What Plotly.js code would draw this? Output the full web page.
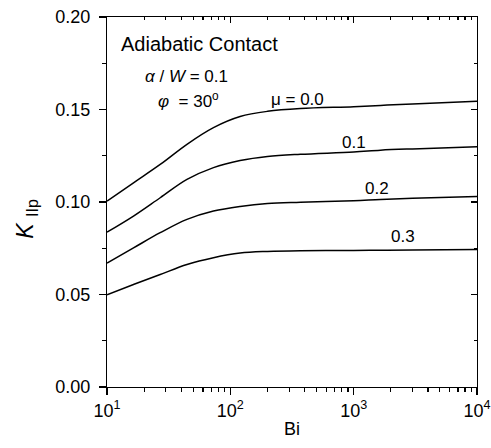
<!DOCTYPE html>
<html>
<head>
<meta charset="utf-8">
<script src="https://cdn.plot.ly/plotly-3.0.1.min.js"></script>
<style>html,body{margin:0;padding:0;background:#fff;}#chart{width:491px;height:448px;}</style>
</head>
<body>
<div id="chart"></div>
<script>
// Data
const bi = [10, 16.4, 27, 44.5, 73, 120, 200, 370, 1000, 1650, 3000, 10000];
const mu00 = [0.1005, 0.1104, 0.1203, 0.1312, 0.1402, 0.1462, 0.1490, 0.1505, 0.1515, 0.1522, 0.1530, 0.1545];
const mu01 = [0.0837, 0.0924, 0.1023, 0.1122, 0.1186, 0.1224, 0.1246, 0.1258, 0.1270, 0.1280, 0.1287, 0.1298];
const mu02 = [0.0670, 0.0752, 0.0834, 0.0906, 0.0951, 0.0976, 0.0992, 0.0999, 0.1007, 0.1014, 0.1020, 0.1030];
const mu03 = [0.0499, 0.0554, 0.0608, 0.0662, 0.0699, 0.0724, 0.0733, 0.0737, 0.0738, 0.0739, 0.0740, 0.0743];
const seriesNames = ['μ = 0.0', '0.1', '0.2', '0.3'];
const labelBi = [352, 1004, 1542, 2505];
const labelK = [0.1555, 0.1322, 0.1074, 0.0814];
const xTickVals = [10, 100, 1000, 10000];
const xTickText = ['10<sup>1</sup>', '10<sup>2</sup>', '10<sup>3</sup>', '10<sup>4</sup>'];
const xMinorVals = [20, 30, 40, 50, 60, 70, 80, 90, 200, 300, 400, 500, 600, 700, 800, 900,
                    2000, 3000, 4000, 5000, 6000, 7000, 8000, 9000];
const yTickVals = [0, 0.05, 0.10, 0.15, 0.20];
const yMinorVals = [0.025, 0.075, 0.125, 0.175];

const font = 'Arial, "Liberation Sans", sans-serif';
const allSeries = [mu00, mu01, mu02, mu03];
const traces = allSeries.map((ys, i) => ({
  x: bi, y: ys, type: 'scatter', mode: 'lines', name: seriesNames[i],
  line: {color: '#000', width: 1.5, shape: 'spline', smoothing: 1},
  showlegend: false, hoverinfo: 'skip'
}));
traces.push({x: [10, 10000], y: [0, 0.2], xaxis: 'x2', yaxis: 'y2', mode: 'markers',
  marker: {opacity: 0}, showlegend: false, hoverinfo: 'skip'});

const annotations = [
  {xref: 'paper', yref: 'paper', x: 0.033, y: 0.928, xanchor: 'left', yanchor: 'middle',
   text: 'Adiabatic Contact', showarrow: false, font: {family: font, size: 20}},
  {xref: 'paper', yref: 'paper', x: 0.097, y: 0.838, xanchor: 'left', yanchor: 'middle',
   text: '<i>α</i> / <i>W</i> = 0.1', showarrow: false, font: {family: font, size: 17}},
  {xref: 'paper', yref: 'paper', x: 0.133, y: 0.775, xanchor: 'left', yanchor: 'middle',
   text: '<i>φ</i>  = 30<sup>o</sup>', showarrow: false, font: {family: font, size: 17}},
  {xref: 'paper', yref: 'paper', x: 0, y: 0.455, xshift: -80, xanchor: 'center', yanchor: 'middle',
   textangle: -90, text: '<i>K</i> <sub>IIp</sub>', showarrow: false, font: {family: font, size: 23}}
];
seriesNames.forEach((t, i) => annotations.push({
  xref: 'x', yref: 'y', x: Math.log10(labelBi[i]), y: labelK[i], xanchor: 'center', yanchor: 'middle',
  text: t, showarrow: false, font: {family: font, size: 17}
}));

const common = {showgrid: false, zeroline: false, showline: true, linecolor: '#000', linewidth: 1.2, tickcolor: '#000'};

const layout = {
  width: 491, height: 448,
  margin: {l: 107, r: 14, t: 17, b: 61},
  paper_bgcolor: '#fff', plot_bgcolor: '#fff',
  font: {family: font, size: 17, color: '#000'},
  xaxis: Object.assign({}, common, {
    type: 'log', range: [1, 4],
    ticks: 'outside', ticklen: 7, tickwidth: 1.2,
    tickmode: 'array', tickvals: xTickVals, ticktext: xTickText,
    minor: {ticks: 'outside', ticklen: 4, tickwidth: 1.2, tickcolor: '#000', tickmode: 'array', tickvals: xMinorVals, showgrid: false},
    tickfont: {family: font, size: 18},
    title: {text: 'Bi', font: {family: font, size: 18}, standoff: 2}
  }),
  yaxis: Object.assign({}, common, {
    range: [0, 0.2],
    ticks: 'outside', ticklen: 7, tickwidth: 1.2,
    tickmode: 'array', tickvals: yTickVals, tickformat: '.2f',
    minor: {ticks: 'outside', ticklen: 4, tickwidth: 1.2, tickcolor: '#000', tickmode: 'array', tickvals: yMinorVals, showgrid: false},
    ticklabelstandoff: 5,
    tickfont: {family: font, size: 18}
  }),
  xaxis2: Object.assign({}, common, {
    type: 'log', range: [1, 4], overlaying: 'x', side: 'top', anchor: 'y2',
    ticks: 'inside', ticklen: 6, tickwidth: 1.2, showticklabels: false,
    tickmode: 'array', tickvals: xTickVals,
    minor: {ticks: 'inside', ticklen: 3, tickwidth: 1.2, tickcolor: '#000', tickmode: 'array', tickvals: xMinorVals, showgrid: false}
  }),
  yaxis2: Object.assign({}, common, {
    range: [0, 0.2], overlaying: 'y', side: 'right', anchor: 'x2',
    ticks: 'inside', ticklen: 6, tickwidth: 1.2, showticklabels: false,
    tickmode: 'array', tickvals: yTickVals,
    minor: {ticks: 'inside', ticklen: 3, tickwidth: 1.2, tickcolor: '#000', tickmode: 'array', tickvals: yMinorVals, showgrid: false}
  }),
  annotations: annotations
};

Plotly.newPlot('chart', traces, layout, {displayModeBar: false, staticPlot: true});
</script>
</body>
</html>
